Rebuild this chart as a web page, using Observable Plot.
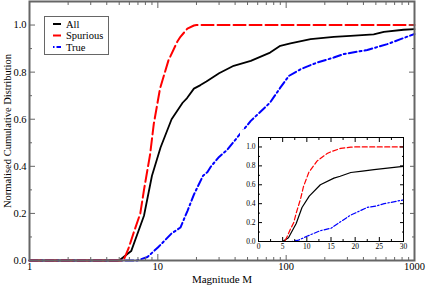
<!DOCTYPE html>
<html>
<head>
<meta charset="utf-8">
<script src="https://cdn.jsdelivr.net/npm/d3@7"></script>
<script src="https://cdn.jsdelivr.net/npm/@observablehq/plot@0.6"></script>
<style>
  html, body { margin: 0; padding: 0; background: white; }
  #wrap { position: relative; width: 427px; height: 285px; overflow: hidden; font-family: "Liberation Serif", "Times New Roman", serif; }
  #wrap > * { position: absolute; }
  #wrap text { font-family: "Liberation Serif", "Times New Roman", serif; }
</style>
</head>
<body>
<div id="wrap"></div>
<script>
// ---- data ----
const allX      = [1, 5, 6.2, 7.8, 9.0, 10.5, 12.8, 15.6, 16.9, 19.1, 21.5, 23.9, 29, 30, 39, 53, 75, 90, 108, 155, 235, 317, 481, 577, 822, 1000];
const allY      = [0, 0, 0.04, 0.19, 0.36, 0.48, 0.60, 0.67, 0.69, 0.73, 0.745, 0.76, 0.79, 0.795, 0.827, 0.848, 0.883, 0.912, 0.922, 0.94, 0.95, 0.954, 0.96, 0.971, 0.98, 0.983];
const spurX     = [1, 5.4, 5.9, 6.5, 7.3, 7.8, 8.7, 9.3, 10.4, 12.1, 12.6, 14.2, 15, 17, 19.1, 20, 30, 1000];
const spurY     = [0, 0, 0.05, 0.12, 0.2, 0.3, 0.45, 0.58, 0.73, 0.85, 0.87, 0.93, 0.95, 0.985, 0.998, 1.0, 1.0, 1.0];
const trueX     = [1, 6.9, 8.3, 10, 12.8, 15, 17, 19.1, 22.5, 24.3, 26, 30, 34.7, 53, 75, 90, 105, 130, 175, 235, 282, 429, 614, 779, 1000];
const trueY     = [0, 0, 0.015, 0.055, 0.115, 0.14, 0.21, 0.28, 0.36, 0.375, 0.4, 0.44, 0.47, 0.593, 0.671, 0.734, 0.784, 0.813, 0.841, 0.862, 0.877, 0.894, 0.919, 0.94, 0.962];
const seriesNames = ["All", "Spurious", "True"];
const xMajor = [1, 10, 100, 1000];
const xMinor = [2,3,4,5,6,7,8,9,20,30,40,50,60,70,80,90,200,300,400,500,600,700,800,900];
const yMajor = [0, 0.2, 0.4, 0.6, 0.8, 1.0];
const yMinor = [0.1, 0.3, 0.5, 0.7, 0.9, 1.1];
const insetXMajor = [0, 5, 10, 15, 20, 25, 30];
const insetXMinor = [2.5, 7.5, 12.5, 17.5, 22.5, 27.5];

const toRows = (xs, ys) => xs.map((x, i) => ({x, y: ys[i]}));
const allRows = toRows(allX, allY), spurRows = toRows(spurX, spurY), trueRows = toRows(trueX, trueY);
const styles = {
  All: {stroke: "black"},
  Spurious: {stroke: "#ff0000", strokeDasharray: "12,4"},
  True: {stroke: "#0000ff", strokeDasharray: "8,3,2,3"}
};
const FONT = "'Liberation Serif', 'Times New Roman', serif";
const fmt1 = d3.format(".1f");
const wrap = document.getElementById("wrap");

// ---- main chart ----
const main = Plot.plot({
  width: 427, height: 285,
  marginLeft: 29, marginRight: 13, marginTop: 1, marginBottom: 25,
  x: {type: "log", domain: [1, 1000], axis: null},
  y: {domain: [0, 1.1], axis: null},
  style: {fontFamily: FONT, fontSize: "10.5px", background: "white", color: "black"},
  marks: [
    Plot.line(allRows, {x: "x", y: "y", strokeWidth: 1.8, ...styles.All}),
    Plot.line(trueRows, {x: "x", y: "y", strokeWidth: 2, ...styles.True}),
    Plot.line(spurRows, {x: "x", y: "y", strokeWidth: 2, ...styles.Spurious}),
    Plot.frame({stroke: "#666", strokeWidth: 2}),
    Plot.axisX(xMajor, {anchor: "bottom", label: null, tickSize: -6, tickPadding: 8, stroke: "#666", tickFormat: d => String(d), fill: "black"}),
    Plot.axisX(xMinor, {anchor: "bottom", label: null, tickSize: -3, text: null, stroke: "#666"}),
    Plot.axisX(xMajor, {anchor: "top", label: null, tickSize: -6, text: null, stroke: "#666"}),
    Plot.axisX(xMinor, {anchor: "top", label: null, tickSize: -3, text: null, stroke: "#666"}),
    Plot.axisY(yMajor, {anchor: "left", label: null, tickSize: -6, tickPadding: 9, stroke: "#666", tickFormat: fmt1, fill: "black"}),
    Plot.axisY(yMinor, {anchor: "left", label: null, tickSize: -3, text: null, stroke: "#666"}),
    Plot.axisY(yMajor, {anchor: "right", label: null, tickSize: -6, text: null, stroke: "#666"}),
    Plot.axisY(yMinor, {anchor: "right", label: null, tickSize: -3, text: null, stroke: "#666"}),
    Plot.text(["Magnitude M"], {frameAnchor: "bottom", dy: 19, fontSize: 11, lineAnchor: "middle", textAnchor: "middle"}),
    Plot.text(["Normalised Cumulative Distribution"], {frameAnchor: "left", dx: -22, rotate: -90, fontSize: 10.5, lineAnchor: "middle", textAnchor: "middle"})
  ]
});
main.style.left = "0px"; main.style.top = "0px";
wrap.appendChild(main);

// ---- legend ----
const legNS = "http://www.w3.org/2000/svg";
const leg = document.createElementNS(legNS, "svg");
leg.setAttribute("width", 66); leg.setAttribute("height", 40);
leg.style.left = "44px"; leg.style.top = "16px";
let legHtml = `<rect x="0.5" y="0.5" width="64" height="38" fill="white" stroke="#666" stroke-width="1"/>`;
seriesNames.forEach((name, i) => {
  const yy = 8 + i * 11.5;
  const st = styles[name];
  const dash = name === "True" ? "1.5,2,5,0" : "none";
  legHtml += `<line x1="9" x2="17" y1="${yy}" y2="${yy}" stroke="${st.stroke}" stroke-width="2" stroke-dasharray="${dash}"/>`;
  legHtml += `<text x="22" y="${yy}" dy="0.35em" style="font-family:${FONT};font-size:10.5px">${name}</text>`;
});
leg.innerHTML = legHtml;
wrap.appendChild(leg);

// ---- inset ----
const inset = Plot.plot({
  width: 170, height: 125,
  marginLeft: 18, marginRight: 7, marginTop: 7, marginBottom: 14,
  x: {domain: [0, 30], axis: null},
  y: {domain: [0, 1.1], axis: null},
  style: {fontFamily: FONT, fontSize: "7.5px", background: "white", color: "black"},
  marks: [
    Plot.frame({fill: "white"}),
    Plot.line(allRows.filter(d => d.x <= 30), {x: "x", y: "y", strokeWidth: 1.2, stroke: "black"}),
    Plot.line(trueRows.filter(d => d.x <= 30), {x: "x", y: "y", strokeWidth: 1.2, stroke: "#0000ff", strokeDasharray: "5,2,1.5,2"}),
    Plot.line(spurRows.filter(d => d.x <= 30), {x: "x", y: "y", strokeWidth: 1.2, stroke: "#ff0000", strokeDasharray: "5,2.5"}),
    Plot.frame({stroke: "black", strokeWidth: 1}),
    Plot.axisX(insetXMajor, {anchor: "bottom", label: null, tickSize: -4, tickPadding: 6.5, tickFormat: d => String(d)}),
    Plot.axisX(insetXMinor, {anchor: "bottom", label: null, tickSize: -2, text: null}),
    Plot.axisX(insetXMajor, {anchor: "top", label: null, tickSize: -4, text: null}),
    Plot.axisX(insetXMinor, {anchor: "top", label: null, tickSize: -2, text: null}),
    Plot.axisY(yMajor, {anchor: "left", label: null, tickSize: -4, tickPadding: 7, tickFormat: fmt1}),
    Plot.axisY(yMinor, {anchor: "left", label: null, tickSize: -2, text: null}),
    Plot.axisY(yMajor, {anchor: "right", label: null, tickSize: -4, text: null}),
    Plot.axisY(yMinor, {anchor: "right", label: null, tickSize: -2, text: null})
  ]
});
inset.style.left = "240px"; inset.style.top = "130px";
wrap.appendChild(inset);
</script>
</body>
</html>
